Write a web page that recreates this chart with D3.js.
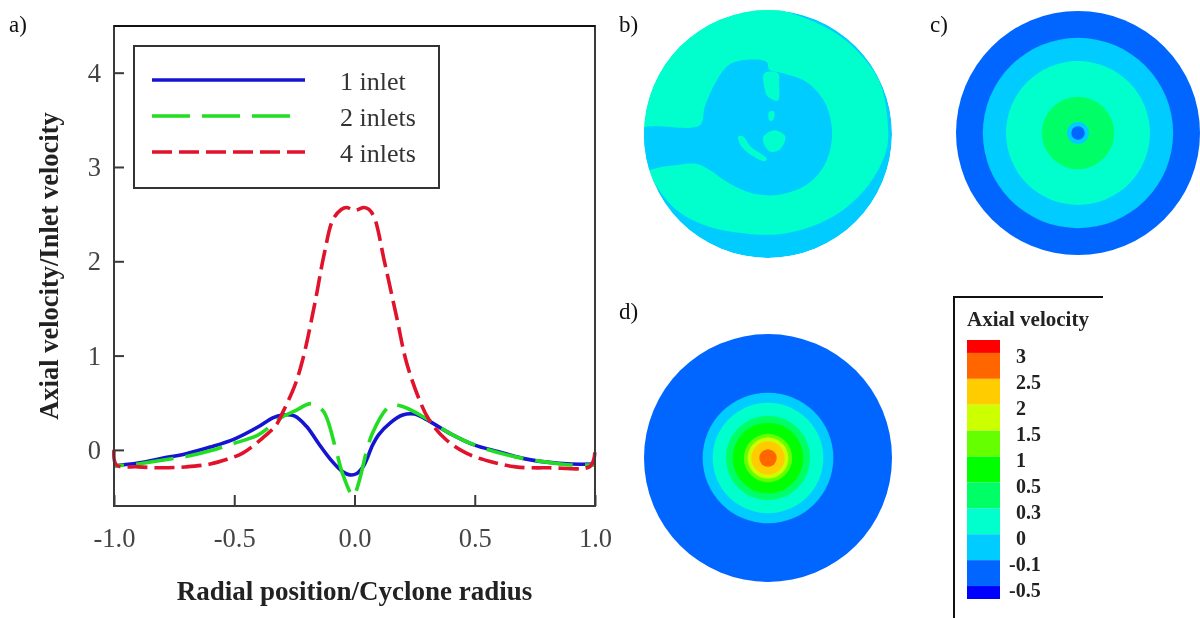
<!DOCTYPE html>
<html>
<head>
<meta charset="utf-8">
<script src="https://cdn.jsdelivr.net/npm/d3@7/dist/d3.min.js"></script>
<style>
  html, body { margin: 0; padding: 0; background: #fff; }
  svg { display: block; filter: blur(0.45px); }
  text { font-family: "Liberation Serif", "Times New Roman", serif; }
</style>
</head>
<body>
<svg id="chart" width="1200" height="618"></svg>
<script>
// Velocity profiles: [radial position, velocity]
const oneInlet = [[-1, -0.17], [-0.9, -0.14], [-0.8, -0.09], [-0.7, -0.04], [-0.6, 0.03], [-0.5, 0.115], [-0.4, 0.245],
    [-0.34, 0.34], [-0.3, 0.37], [-0.25, 0.36], [-0.2, 0.25], [-0.15, 0.07], [-0.1, -0.1], [-0.05, -0.23], [-0.02, -0.265],
    [0.01, -0.25], [0.04, -0.16], [0.075, 0.05], [0.1, 0.16], [0.15, 0.29], [0.2, 0.37], [0.25, 0.38], [0.3, 0.32], [0.4, 0.17],
    [0.5, 0.05], [0.6, -0.02], [0.7, -0.09], [0.8, -0.13], [0.9, -0.15], [1, -0.15]];
const twoInlets = [[-1, -0.17], [-0.9, -0.15], [-0.8, -0.11], [-0.7, -0.07], [-0.6, -0.01], [-0.5, 0.07], [-0.4, 0.16],
    [-0.3, 0.35], [-0.25, 0.41], [-0.18, 0.49], [-0.13, 0.41], [-0.08, 0.03], [-0.05, -0.25], [-0.005, -0.49], [0.015, -0.37],
    [0.075, 0.18], [0.15, 0.47], [0.2, 0.46], [0.3, 0.33], [0.4, 0.17], [0.5, 0.05], [0.6, -0.03], [0.7, -0.09], [0.8, -0.13],
    [0.9, -0.16], [1, -0.16]];
const fourInlets = [[-1, 0], [-0.99, -0.16], [-0.9, -0.18], [-0.8, -0.19], [-0.7, -0.18], [-0.6, -0.15], [-0.53, -0.1], [-0.465, -0.035],
    [-0.38, 0.13], [-0.325, 0.265], [-0.3, 0.39], [-0.25, 0.67], [-0.216, 0.95], [-0.166, 1.54], [-0.125, 2.09], [-0.09, 2.44],
    [-0.055, 2.55], [-0.033, 2.57], [0, 2.54], [0.04, 2.57], [0.06, 2.55], [0.083, 2.46], [0.125, 1.99], [0.175, 1.41], [0.216, 0.93],
    [0.27, 0.53], [0.31, 0.32], [0.38, 0.11], [0.465, -0.035], [0.56, -0.12], [0.67, -0.18], [0.81, -0.19], [0.977, -0.18], [0.995, -0.1], [1, 0]];

const xTicks = [-1, -0.5, 0, 0.5, 1];
const yTicks = [0, 1, 2, 3, 4];
const seriesNames = ['1 inlet', '2 inlets', '4 inlets'];

// Colour legend, top to bottom. The first and last bands are half height.
const bandColors = ['#ff0000', '#ff6600', '#ffcc00', '#ccff00', '#66ff00', '#00ff00', '#00ff66', '#00ffcc', '#00ccff', '#0066ff', '#0000ff'];
const bandEdges = [0, 0.5, 1.5, 2.5, 3.5, 4.5, 5.5, 6.5, 7.5, 8.5, 9.5, 10];
const levelLabels = ['3', '2.5', '2', '1.5', '1', '0.5', '0.3', '0', '-0.1', '-0.5'];

// Contour rings as fractions of the cyclone radius, outer to inner
const ringsC = [[1, '#0066ff'], [0.78, '#00ccff'], [0.59, '#00ffcc'], [0.297, '#00ff66'], [0.09, '#00ccff'], [0.055, '#0066ff']];
const ringsD = [[1, '#0066ff'], [0.527, '#00ccff'], [0.446, '#00ffcc'], [0.34, '#00ff66'], [0.285, '#00ff00'],
    [0.195, '#66ff00'], [0.165, '#ccff00'], [0.135, '#ffcc00'], [0.07, '#ff6600']];

// Panel b contours, in the same fractions of the radius
const greenZone = [[-0.93, -0.37], [-0.74, -0.61], [-0.47, -0.75], [-0.2, -0.8], [0.07, -0.81], [0.34, -0.75], [0.61, -0.61], [0.82, -0.4],
    [0.955, -0.13], [0.965, 0.1], [0.9, 0.42], [0.72, 0.67], [0.5, 0.84], [0.23, 0.96], [-0.01, 1.02], [-0.26, 1], [-0.61, 0.85],
    [-0.9, 0.52], [-1.03, 0.19], [-1.03, -0.02], [-1.02, -0.16]];
const coreZone = [[-1.05, 0.03], [-0.55, 0.07], [-0.51, 0.22], [-0.42, 0.42], [-0.31, 0.56], [-0.15, 0.6], [-0.01, 0.58], [0.01, 0.52],
    [0.12, 0.49], [0.31, 0.42], [0.45, 0.27], [0.51, 0.09], [0.51, -0.08], [0.45, -0.26], [0.31, -0.41], [0.09, -0.49], [-0.12, -0.48],
    [-0.31, -0.4], [-0.47, -0.29], [-0.58, -0.24], [-0.82, -0.26], [-1.05, -0.28]];
const specks = [
    [[-0.03, 0.49], [0.08, 0.49], [0.09, 0.4], [0.08, 0.27], [0, 0.3], [-0.03, 0.38]],
    [[0.01, 0.18], [0.05, 0.18], [0.04, 0.11], [0.01, 0.11]],
    [[-0.04, -0.03], [0.05, 0.03], [0.14, -0.02], [0.09, -0.13], [0.01, -0.14]],
    [[-0.24, -0.02], [-0.2, -0.02], [-0.14, -0.1], [-0.01, -0.2], [-0.03, -0.22], [-0.15, -0.16], [-0.22, -0.09]]
];

const svg = d3.select('#chart');
const defs = svg.append('defs');
defs.append('filter').attr('id', 'soft').append('feGaussianBlur').attr('stdDeviation', 0.7);

const plot = { left: 114, right: 595, top: 26, bottom: 506 };
const x = d3.scaleLinear().domain([-1, 1]).range([plot.left, plot.right]);
const y = d3.scaleLinear().domain([-0.595, 4.495]).range([plot.bottom, plot.top]);
const axisColor = '#3a3a3a';

// Panel a: the curves go under the frame
const line = d3.line().x(d => x(d[0])).y(d => y(d[1])).curve(d3.curveCatmullRom.alpha(0.5));
const curves = [
    { values: oneInlet, color: '#1414d2', dash: null, offset: 0 },
    { values: twoInlets, color: '#22dd22', dash: '38 12', offset: 28 },
    { values: fourInlets, color: '#e0122c', dash: '20 7', offset: 0 }
];
svg.append('g').selectAll('path')
    .data(curves)
    .join('path')
    .attr('d', d => line(d.values))
    .attr('fill', 'none')
    .attr('stroke', d => d.color)
    .attr('stroke-width', 3.6)
    .attr('stroke-dasharray', d => d.dash)
    .attr('stroke-dashoffset', d => d.offset);

svg.append('rect')
    .attr('x', plot.left).attr('y', plot.top)
    .attr('width', plot.right - plot.left).attr('height', plot.bottom - plot.top)
    .attr('fill', 'none').attr('stroke', axisColor).attr('stroke-width', 2);
svg.append('line')
    .attr('x1', plot.left).attr('x2', plot.right).attr('y1', plot.top).attr('y2', plot.top)
    .attr('stroke', '#111').attr('stroke-width', 2);

const xAxis = svg.append('g')
    .attr('transform', `translate(0,${plot.bottom})`)
    .call(d3.axisBottom(x).tickValues(xTicks).tickSize(-11).tickPadding(22).tickFormat(d3.format('.1f')));
const yAxis = svg.append('g')
    .attr('transform', `translate(${plot.left},0)`)
    .call(d3.axisLeft(y).tickValues(yTicks).tickSize(-10).tickPadding(13).tickFormat(d3.format('d')));
[xAxis, yAxis].forEach(axis => {
    axis.select('.domain').remove();
    axis.selectAll('line').attr('stroke', axisColor).attr('stroke-width', 2);
    axis.selectAll('text')
        .attr('fill', '#444')
        .style('font-family', '"Liberation Serif", serif')
        .style('font-size', '26.5px');
});
// d3 writes a proper minus sign, the figure has a plain hyphen
xAxis.selectAll('text').text(d => d3.format('.1f')(d).replace('\u2212', '-'));

svg.append('text')
    .attr('x', 354.5).attr('y', 600)
    .attr('text-anchor', 'middle')
    .attr('font-size', 27).attr('font-weight', 'bold').attr('fill', '#222')
    .text('Radial position/Cyclone radius');
svg.append('text')
    .attr('transform', 'translate(58,266) rotate(-90)')
    .attr('text-anchor', 'middle')
    .attr('font-size', 26.5).attr('font-weight', 'bold').attr('fill', '#222')
    .text('Axial velocity/Inlet velocity');

// Line legend
svg.append('rect')
    .attr('x', 134).attr('y', 46).attr('width', 305).attr('height', 142)
    .attr('fill', '#fff').attr('stroke', '#333').attr('stroke-width', 2);
const legendRows = svg.append('g').selectAll('g')
    .data(curves)
    .join('g')
    .attr('transform', (d, i) => `translate(0,${80 + i * 36})`);
legendRows.append('line')
    .attr('x1', 152).attr('x2', (d, i) => i === 1 ? 292 : 305)
    .attr('stroke', d => d.color).attr('stroke-width', 3.6)
    .attr('stroke-dasharray', d => d.dash);
legendRows.append('text')
    .attr('x', 340).attr('y', 10)
    .attr('font-size', 26).attr('fill', '#333')
    .text((d, i) => seriesNames[i]);

// Panels b, c, d
function diskScales(cx, cy, r) {
    return {
        px: d3.scaleLinear().domain([-1, 1]).range([cx - r, cx + r]),
        py: d3.scaleLinear().domain([-1, 1]).range([cy + r, cy - r]),
        pr: d3.scaleLinear().domain([0, 1]).range([0, r])
    };
}

function drawRings(rings, cx, cy, r) {
    const { pr } = diskScales(cx, cy, r);
    svg.append('g').attr('filter', 'url(#soft)')
        .selectAll('circle')
        .data(rings)
        .join('circle')
        .attr('cx', cx).attr('cy', cy)
        .attr('r', d => pr(d[0]))
        .attr('fill', d => d[1]);
}

const diskB = diskScales(768, 134, 124);
const outline = d3.line().x(d => diskB.px(d[0])).y(d => diskB.py(d[1])).curve(d3.curveCatmullRomClosed.alpha(0.5));
defs.append('clipPath').attr('id', 'disk-b')
    .append('circle').attr('cx', 768).attr('cy', 134).attr('r', 124);
const panelB = svg.append('g').attr('filter', 'url(#soft)').append('g').attr('clip-path', 'url(#disk-b)');
panelB.append('circle').attr('cx', 768).attr('cy', 134).attr('r', 124).attr('fill', '#00ccff');
panelB.append('path').attr('d', outline(greenZone)).attr('fill', '#00ffcc');
panelB.append('path').attr('d', outline(coreZone)).attr('fill', '#00ccff');
panelB.selectAll('.speck')
    .data(specks)
    .join('path')
    .attr('class', 'speck')
    .attr('d', outline)
    .attr('fill', '#00ffcc');

drawRings(ringsC, 1078, 133, 122);
drawRings(ringsD, 768, 458, 124);

// Colour legend
svg.append('path')
    .attr('d', 'M954,618V297H1103')
    .attr('fill', 'none').attr('stroke', '#111').attr('stroke-width', 2);
svg.append('text')
    .attr('x', 967).attr('y', 326)
    .attr('font-size', 21).attr('font-weight', 'bold').attr('fill', '#222')
    .text('Axial velocity');
const band = d3.scaleLinear().domain([0, 10]).range([340, 599]);
svg.append('g').selectAll('rect')
    .data(bandColors)
    .join('rect')
    .attr('x', 967).attr('width', 33)
    .attr('y', (d, i) => band(bandEdges[i]))
    .attr('height', (d, i) => band(bandEdges[i + 1]) - band(bandEdges[i]))
    .attr('fill', d => d);
svg.append('g').selectAll('text')
    .data(levelLabels)
    .join('text')
    .attr('x', d => d.startsWith('-') ? 1009 : 1016)
    .attr('y', (d, i) => band(bandEdges[i + 1]) + 10.5)
    .attr('font-size', 20).attr('font-weight', 'bold').attr('fill', '#222')
    .text(d => d);

// Panel letters
const panelLetters = [['a)', 9, 32], ['b)', 619, 32], ['c)', 930, 32], ['d)', 619, 319]];
svg.append('g').selectAll('text')
    .data(panelLetters)
    .join('text')
    .attr('x', d => d[1]).attr('y', d => d[2])
    .attr('font-size', 23).attr('fill', '#111')
    .text(d => d[0]);
</script>
</body>
</html>
